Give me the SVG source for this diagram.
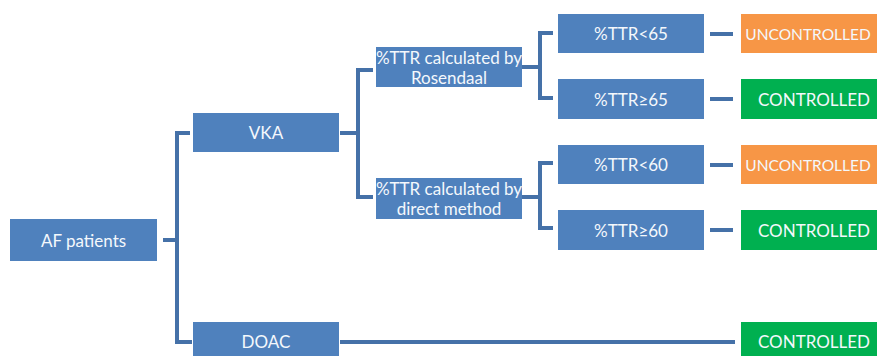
<svg xmlns="http://www.w3.org/2000/svg" width="877" height="356" viewBox="0 0 877 356">
<style>
.b{fill:#4F81BD}
.o{fill:#F79646}
.g{fill:#00B050}
.t{fill:#F4F8FC;font-family:Lato,"Open Sans","Liberation Sans",sans-serif;font-size:17px;text-anchor:middle;dominant-baseline:central}
.u{font-size:15.5px}
.c{fill:none;stroke:#4571A8;stroke-width:4}
</style>
<rect width="877" height="356" fill="#fff"/>
<g id="connectors">
<path class="c" d="M163 240H176M190 133H177V342H192"/>
<path class="c" d="M340 133H357M373 70H358V197H373"/>
<path class="c" d="M522 67H540M553 33H540V98H553"/>
<path class="c" d="M522 197H540M553 163H540V228H553"/>
<path class="c" d="M710 34H733M710 99H733M710 165H733M710 230H733"/>
<path class="c" d="M340 342H735"/>
</g>
<g id="af"><rect class="b" x="10" y="219" width="147" height="42"/><text class="t" x="83.5" y="240">AF patients</text></g>
<g id="vka"><rect class="b" x="193" y="113" width="146" height="39"/><text class="t" x="266" y="132.5">VKA</text></g>
<g id="doac"><rect class="b" x="193" y="322" width="146" height="34"/><text class="t" x="266" y="341">DOAC</text></g>
<g id="rosendaal"><rect class="b" x="376" y="47" width="146" height="40"/><text class="t" x="449" y="57">%TTR calculated by</text><text class="t" x="449" y="77">Rosendaal</text></g>
<g id="direct"><rect class="b" x="376" y="178" width="146" height="41"/><text class="t" x="449" y="188">%TTR calculated by</text><text class="t" x="449" y="208">direct method</text></g>
<g id="ttr65lt"><rect class="b" x="558" y="14" width="146" height="39"/><text class="t" x="631" y="33.5">%TTR&lt;65</text></g>
<g id="ttr65ge"><rect class="b" x="558" y="79" width="146" height="40"/><text class="t" x="631" y="99">%TTR≥65</text></g>
<g id="ttr60lt"><rect class="b" x="558" y="145" width="146" height="39"/><text class="t" x="631" y="164.5">%TTR&lt;60</text></g>
<g id="ttr60ge"><rect class="b" x="558" y="210" width="146" height="40"/><text class="t" x="631" y="230">%TTR≥60</text></g>
<g id="unc1"><rect class="o" x="741" y="14" width="136" height="39"/><text class="t u" x="808" y="33.5">UNCONTROLLED</text></g>
<g id="con1"><rect class="g" x="741" y="79" width="136" height="40"/><text class="t" x="814" y="99">CONTROLLED</text></g>
<g id="unc2"><rect class="o" x="741" y="145" width="136" height="39"/><text class="t u" x="808" y="164.5">UNCONTROLLED</text></g>
<g id="con2"><rect class="g" x="741" y="210" width="136" height="40"/><text class="t" x="814" y="230">CONTROLLED</text></g>
<g id="con3"><rect class="g" x="741" y="322" width="136" height="34"/><text class="t" x="814" y="341">CONTROLLED</text></g>
</svg>
